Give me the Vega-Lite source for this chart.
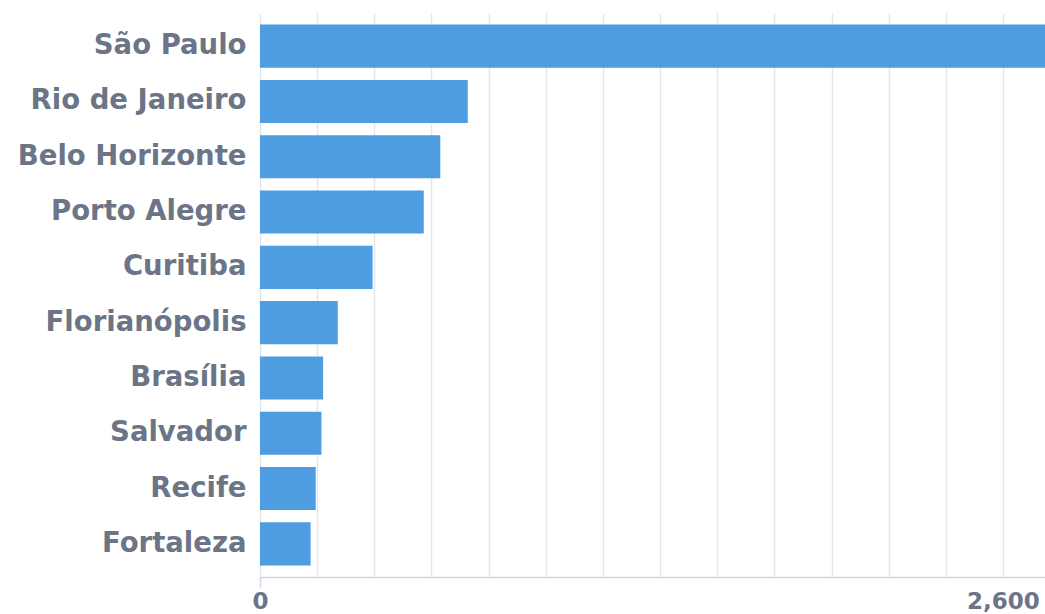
{
  "$schema": "https://vega.github.io/schema/vega-lite/v6.json",
  "width": 785,
  "height": 564,
  "autosize": {"type": "none"},
  "padding": {"left": 260, "top": 13, "right": 0, "bottom": 37},
  "background": "white",
  "data": {
    "values": [
      {"city": "São Paulo", "value": 2900},
      {"city": "Rio de Janeiro", "value": 727},
      {"city": "Belo Horizonte", "value": 631},
      {"city": "Porto Alegre", "value": 573},
      {"city": "Curitiba", "value": 394},
      {"city": "Florianópolis", "value": 272},
      {"city": "Brasília", "value": 221},
      {"city": "Salvador", "value": 215},
      {"city": "Recife", "value": 195},
      {"city": "Fortaleza", "value": 177}
    ]
  },
  "mark": {"type": "bar", "color": "#4e9de1", "clip": true},
  "encoding": {
    "y": {
      "field": "city",
      "type": "nominal",
      "sort": null,
      "scale": {"paddingInner": 0.22, "paddingOuter": 0.21},
      "axis": {
        "title": null,
        "domain": false,
        "ticks": false,
        "grid": false,
        "labelPadding": 14,
        "labelLimit": 400,
        "labelFont": "DejaVu Sans",
        "labelFontWeight": "bold",
        "labelFontSize": 27.5,
        "labelColor": "#6b7587"
      }
    },
    "x": {
      "field": "value",
      "type": "quantitative",
      "scale": {"domain": [0, 2747], "nice": false, "zero": true},
      "axis": {
        "title": null,
        "values": [0, 200, 400, 600, 800, 1000, 1200, 1400, 1600, 1800, 2000, 2200, 2400, 2600],
        "labelExpr": "datum.value == 0 || datum.value == 2600 ? datum.label : ''",
        "labelFlush": false,
        "labelOverlap": false,
        "labelFont": "DejaVu Sans",
        "labelFontWeight": "bold",
        "labelFontSize": 23,
        "labelColor": "#6b7587",
        "labelPadding": 3,
        "grid": true,
        "gridColor": "#e3e6ea",
        "gridWidth": 1.5,
        "domain": true,
        "domainColor": "#ccd6eb",
        "domainWidth": 1.5,
        "tickSize": 10,
        "tickWidth": 1.5,
        "tickColor": {"condition": {"test": "datum.value == 0", "value": "#ccd6eb"}, "value": "transparent"}
      }
    }
  },
  "config": {"view": {"stroke": null}}
}
